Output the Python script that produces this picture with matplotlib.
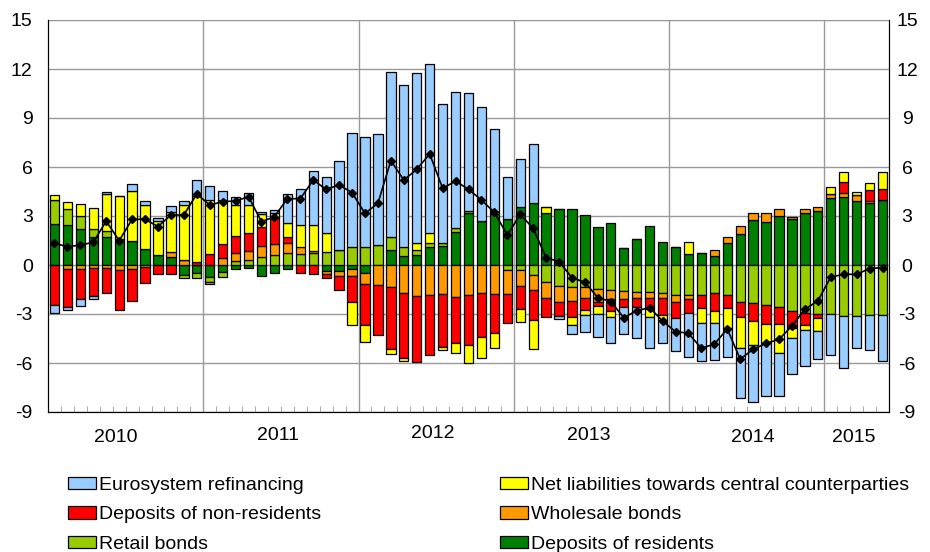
import numpy as np
import matplotlib
matplotlib.use("Agg")
import matplotlib.pyplot as plt
from matplotlib.patches import Patch

plt.rcParams['font.family'] = ['Liberation Sans', 'DejaVu Sans']
plt.rcParams['axes.unicode_minus'] = False

# monthly, Jan 2010 - May 2015
years = ["2010", "2011", "2012", "2013", "2014", "2015"]

residents = [2.51, 2.45, 2.20, 1.73, 1.73, 1.57, 1.49, 0.96, 0.61, 0.47, -0.61, -0.51,
             -0.71, -0.41, -0.27, -0.20, -0.67, -0.47, -0.27, 0.00, 0.00, -0.35, -0.35, -0.27,
             -0.47, 0.00, 0.92, 0.55, 0.61, 1.12, 1.16, 2.00, 3.20, 2.71, 3.12, 2.82,
             3.53, 3.78, 3.16, 3.41, 3.41, 3.06, 2.31, 2.55, 1.02, 1.57, 2.41, 1.39,
             1.12, 0.67, 0.76, 0.57, 1.33, 1.90, 2.76, 2.65, 3.00, 2.82, 3.16, 3.31,
             4.12, 4.16, 3.92, 3.78, 3.98]
retail = [1.47, 0.96, 0.80, 0.45, 0.35, 0.00, 0.00, 0.00, 0.00, 0.00, -0.20, -0.31,
          -0.31, -0.31, 0.27, 0.31, 0.47, 0.61, 0.71, 0.67, 0.71, 0.78, 0.92, 1.08,
          1.12, 1.22, 0.78, 0.57, 0.31, 0.24, 0.16, 0.24, 0.12, 0.00, 0.00, -0.31,
          -0.31, -0.61, -1.02, -1.27, -1.37, -1.33, -1.49, -1.53, -1.57, -1.63, -1.63, -1.73,
          -1.84, -1.84, -1.84, -1.73, -1.84, -2.24, -2.31, -2.45, -2.55, -2.80, -2.96, -2.98,
          -2.98, -3.12, -3.12, -3.06, -3.06]
wholesale = [0.00, -0.27, -0.27, -0.16, -0.20, -0.31, -0.27, -0.10, 0.00, 0.31, 0.31, 0.00,
             -0.14, 0.41, 0.45, 0.57, 0.69, 0.67, 0.65, 0.45, 0.16, -0.20, -0.33, -0.41,
             -0.69, -1.22, -1.37, -1.73, -1.90, -1.84, -1.78, -1.94, -1.84, -1.69, -1.78, -1.47,
             -0.98, -0.92, -1.02, -0.98, -0.82, -0.71, -0.76, -0.57, -0.53, -0.41, -0.37, -0.27,
             -0.41, -0.24, 0.00, 0.35, 0.37, 0.51, 0.41, 0.51, 0.41, 0.10, 0.27, 0.27,
             0.20, 0.22, 0.35, 0.14, 0.00]
non_residents = [-2.45, -2.29, -1.84, -1.73, -1.53, -2.45, -1.94, -1.00, -0.55, -0.55, 0.00, 0.16,
                 0.67, 0.88, 1.06, 1.10, 1.18, 1.57, 0.37, -0.51, -0.55, -0.27, -0.86, -1.57,
                 -2.51, -3.06, -3.80, -3.98, -4.02, -3.67, -3.27, -2.86, -3.06, -2.73, -2.41, -1.76,
                 -1.43, -1.84, -1.12, -0.88, -0.98, -0.71, -0.27, -0.69, -0.49, -0.55, -0.71, -1.06,
                 -1.02, -0.84, -0.82, -1.06, -0.82, -0.96, -1.10, -1.16, -1.06, -1.04, -0.71, -0.24,
                 0.00, 0.69, 0.00, 0.67, 0.69]
ccp = [0.31, 0.47, 0.73, 1.29, 2.27, 2.65, 3.06, 2.71, 2.10, 2.49, 3.38, 4.08,
       3.31, 2.69, 1.90, 1.69, 0.78, 0.31, 0.82, 1.33, 1.57, 1.16, 0.00, -1.43,
       -1.02, 0.00, -0.29, -0.14, 0.45, 0.61, -0.16, -0.61, -1.08, -1.29, -0.92, 0.00,
       -0.76, -1.80, 0.41, 0.00, -0.51, -0.31, -0.45, -0.41, 0.00, 0.00, -0.49, -0.31,
       0.00, 0.76, -0.92, -0.78, -1.22, -1.90, -1.49, -1.14, -1.80, -0.65, -0.31, -0.82,
       0.47, 0.61, 0.20, 0.41, 1.02]
eurosystem = [-0.51, -0.20, -0.41, -0.18, 0.10, 0.00, 0.41, 0.27, 0.14, 0.35, 0.20, 0.96,
              0.88, 0.57, 0.51, 0.71, 0.14, 0.20, 1.78, 2.18, 3.33, 3.47, 5.47, 7.02,
              6.69, 6.80, 10.14, 9.90, 10.37, 10.31, 8.53, 8.33, 7.24, 6.94, 5.18, 2.55,
              2.98, 3.61, 0.00, -0.18, -0.57, -1.06, -1.43, -1.59, -1.63, -1.90, -1.86, -1.43,
              -2.00, -2.69, -2.31, -2.24, -1.73, -3.06, -3.47, -3.24, -2.59, -2.18, -2.20, -1.69,
              -2.55, -3.16, -1.94, -2.16, -2.82]
total = [1.33, 1.12, 1.22, 1.39, 2.69, 1.49, 2.80, 2.80, 2.35, 3.06, 3.06, 4.35,
         3.67, 3.88, 3.92, 4.18, 2.65, 2.96, 4.06, 4.06, 5.20, 4.63, 4.90, 4.43,
         3.16, 3.78, 6.39, 5.20, 5.86, 6.80, 4.69, 5.14, 4.63, 3.98, 3.22, 1.84,
         3.10, 2.24, 0.45, 0.20, -0.78, -1.06, -2.00, -2.24, -3.22, -2.80, -2.61, -3.43,
         -4.08, -4.18, -5.10, -4.84, -3.92, -5.76, -5.16, -4.80, -4.55, -3.73, -2.71, -2.20,
         -0.74, -0.57, -0.57, -0.22, -0.16]

series = [
    (residents, "#007F00", "Deposits of residents"),
    (retail, "#99CC00", "Retail bonds"),
    (wholesale, "#FF9900", "Wholesale bonds"),
    (non_residents, "#FF0000", "Deposits of non-residents"),
    (ccp, "#FFFF00", "Net liabilities towards central counterparties"),
    (eurosystem, "#99CCFF", "Eurosystem refinancing"),
]

fig = plt.figure(figsize=(9.3, 5.52), dpi=100)
ax = fig.add_axes([48 / 930, 1 - 412 / 552, 841 / 930, 392 / 552])

x = np.arange(len(total))
pos_bottom = np.zeros(len(x))
neg_bottom = np.zeros(len(x))
for vals, color, label in series:
    vals = np.array(vals)
    bottom = np.where(vals >= 0, pos_bottom, neg_bottom)
    ax.bar(x, vals, width=0.72, bottom=bottom, color=color,
           edgecolor="black", linewidth=0.9, zorder=3)
    pos_bottom += np.clip(vals, 0, None)
    neg_bottom += np.clip(vals, None, 0)

ax.plot(x, total, color="black", lw=1.2, marker="D", ms=4, zorder=5)

ax.set_xlim(-0.5, len(x) - 0.5)
ax.set_ylim(-9, 15)
ax.set_yticks(range(-9, 16, 3))
ax.set_axisbelow(True)
ax.yaxis.grid(True, color="#999999", lw=1)
ax.set_xticks([11.5, 23.5, 35.5, 47.5, 59.5])
ax.set_xticklabels([])
ax.xaxis.grid(True, color="#999999", lw=1)
ax.set_xticks(np.arange(-0.5, len(x), 1), minor=True)
ax.tick_params(axis="x", which="major", length=0)
ax.tick_params(axis="x", which="minor", direction="in", length=4, color="#999999")
ax.tick_params(axis="y", length=0, labelsize=14, pad=11)

for side in ["left", "bottom", "right"]:
    ax.spines[side].set_color("black")
ax.spines["top"].set_color("#999999")

ax2 = ax.twinx()
ax2.set_ylim(-9, 15)
ax2.set_yticks(range(-9, 16, 3))
ax2.tick_params(axis="y", length=0, labelsize=14, pad=13)
for lab in ax2.get_yticklabels():
    lab.set_horizontalalignment("center")
ax2.spines["top"].set_visible(False)

year_x = [4.75, 17.3, 29.25, 41.3, 54.0, 61.8]
year_y = [-0.066, -0.059, -0.054, -0.059, -0.064, -0.064]
for yr, xp, yp in zip(years, year_x, year_y):
    ax.text(xp, yp, yr, transform=ax.get_xaxis_transform(),
            ha="center", va="center", fontsize=14)

handles = {lab: Patch(facecolor=c, edgecolor="black", linewidth=0.9) for _, c, lab in series}
col1 = ["Eurosystem refinancing", "Deposits of non-residents", "Retail bonds"]
col2 = ["Net liabilities towards central counterparties", "Wholesale bonds", "Deposits of residents"]
for labels, xpos in [(col1, 68 / 930), (col2, 500 / 930)]:
    fig.legend([handles[l] for l in labels], labels, loc="upper left",
               bbox_to_anchor=(xpos, 1 - 477 / 552), frameon=False, fontsize=14,
               handlelength=1.45, handleheight=0.6, handletextpad=0.15,
               labelspacing=0.63, borderpad=0, borderaxespad=0)

fig.savefig("out.png", dpi=100)
